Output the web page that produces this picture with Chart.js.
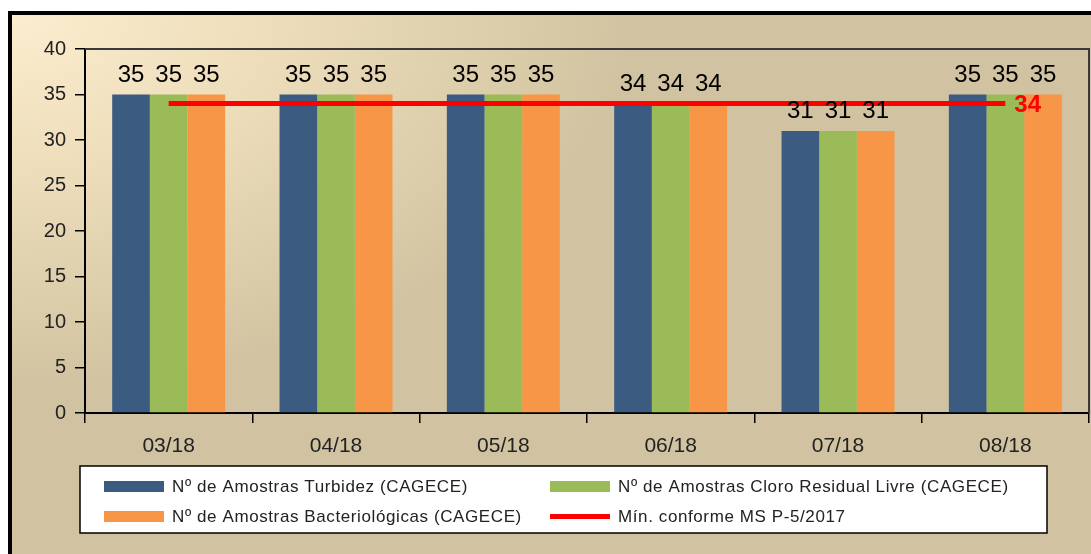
<!DOCTYPE html>
<html>
<head>
<meta charset="utf-8">
<script src="https://cdn.jsdelivr.net/npm/chart.js@4"></script>
<style>
  html, body { margin: 0; padding: 0; background: #fff; }
  #wrap { width: 1091px; height: 554px; }
</style>
</head>
<body>
<div id="wrap"><canvas id="myChart" width="1091" height="554"></canvas></div>
<script>
var meses = ["03/18", "04/18", "05/18", "06/18", "07/18", "08/18"];
var turbidez = [35, 35, 35, 34, 31, 35];
var cloro = [35, 35, 35, 34, 31, 35];
var bacterio = [35, 35, 35, 34, 31, 35];
var minimo = [34, 34, 34, 34, 34, 34];
var yTicks = [0, 5, 10, 15, 20, 25, 30, 35, 40];

var fonte = "'Liberation Sans', Arial, sans-serif";

// fundo, moldura e caixa da legenda
var fundo = {
  id: "fundo",
  beforeDraw: function (chart) {
    var ctx = chart.ctx;
    ctx.save();
    ctx.fillStyle = "#fff";
    ctx.fillRect(0, 0, chart.width, chart.height);
    ctx.fillStyle = "#000";
    ctx.fillRect(8, 11, chart.width, chart.height);
    ctx.save();
    ctx.beginPath();
    ctx.rect(12, 15, chart.width, chart.height);
    ctx.clip();
    ctx.scale(1, 0.6);
    var g = ctx.createRadialGradient(12, 25, 0, 12, 25, 620);
    g.addColorStop(0, "#fcedcf");
    g.addColorStop(0.45, "#ecdcb9");
    g.addColorStop(1, "#d1c3a1");
    ctx.fillStyle = g;
    ctx.fillRect(0, 0, chart.width, chart.height / 0.6);
    ctx.restore();
    ctx.restore();
  },
  afterDatasetsDraw: function (chart) {
    var ctx = chart.ctx;
    var a = chart.chartArea;
    ctx.save();
    // borda superior e direita da área do gráfico
    ctx.strokeStyle = "#3a3a3a";
    ctx.lineWidth = 2;
    ctx.beginPath();
    ctx.moveTo(a.left, a.top);
    ctx.lineTo(a.right, a.top);
    ctx.lineTo(a.right, a.bottom);
    ctx.stroke();

    // rótulos de valor acima das barras
    ctx.font = "24px " + fonte;
    ctx.fillStyle = "#000";
    ctx.textAlign = "center";
    ctx.textBaseline = "alphabetic";
    chart.data.datasets.forEach(function (ds, i) {
      if (ds.type === "line") return;
      chart.getDatasetMeta(i).data.forEach(function (bar, j) {
        ctx.fillText(ds.data[j], bar.x, bar.y - 13);
      });
    });

    // rótulo da linha no último ponto
    var li = chart.data.datasets.findIndex(function (d) { return d.type === "line"; });
    var pts = chart.getDatasetMeta(li).data;
    var last = pts[pts.length - 1];
    ctx.font = "bold 24px " + fonte;
    ctx.fillStyle = "#ff0000";
    ctx.textAlign = "left";
    ctx.textBaseline = "middle";
    ctx.fillText(minimo[minimo.length - 1], last.x + 9, last.y + 2);

    // legenda
    ctx.fillStyle = "#fff";
    ctx.fillRect(80, 466, 967, 67);
    ctx.strokeStyle = "#000";
    ctx.lineWidth = 1.5;
    ctx.strokeRect(80, 466, 967, 67);
    var pos = [[104, 486], [104, 516], [550, 486], [550, 516]];
    var ordem = [1, 3, 2, 0];
    ctx.font = "17px " + fonte;
    ctx.letterSpacing = "0.6px";
    ctx.textBaseline = "middle";
    ordem.forEach(function (di, k) {
      var ds = chart.data.datasets[di];
      var p = pos[k];
      ctx.fillStyle = ds.type === "line" ? ds.borderColor : ds.backgroundColor;
      if (ds.type === "line") ctx.fillRect(p[0], p[1] - 2, 60, 5);
      else ctx.fillRect(p[0], p[1] - 5, 60, 11);
      ctx.fillStyle = "#222";
      ctx.fillText(ds.label, p[0] + 68, p[1] + 1);
    });
    ctx.restore();
  }
};

new Chart("myChart", {
  type: "bar",
  data: {
    labels: meses,
    datasets: [
      {
        type: "line",
        label: "Mín. conforme MS P-5/2017",
        data: minimo,
        borderColor: "#ff0000",
        borderWidth: 5,
        pointRadius: 0,
        borderCapStyle: "butt",
        order: 0
      },
      {
        label: "Nº de Amostras Turbidez (CAGECE)",
        data: turbidez,
        backgroundColor: "#3b5b80",
        order: 1
      },
      {
        label: "Nº de Amostras Cloro Residual Livre (CAGECE)",
        data: cloro,
        backgroundColor: "#9bbb59",
        order: 1
      },
      {
        label: "Nº de Amostras Bacteriológicas (CAGECE)",
        data: bacterio,
        backgroundColor: "#f79646",
        order: 1
      }
    ]
  },
  options: {
    responsive: false,
    animation: false,
    layout: { padding: { left: 0, top: 49, right: 2, bottom: 101 } },
    datasets: { bar: { barPercentage: 1, categoryPercentage: 0.675 } },
    plugins: { legend: { display: false }, tooltip: { enabled: false } },
    scales: {
      x: {
        afterFit: function (s) { s.height = 40; },
        grid: { offset: true, drawOnChartArea: false, drawTicks: true, tickLength: 10, color: "#000", lineWidth: 1.5 },
        border: { display: true, color: "#000", width: 2 },
        ticks: { color: "#222", font: { family: fonte, size: 21 }, padding: 11 }
      },
      y: {
        min: 0,
        max: 40,
        afterFit: function (s) { s.width = 85; },
        afterBuildTicks: function (s) { s.ticks = yTicks.map(function (v) { return { value: v }; }); },
        grid: { drawOnChartArea: false, drawTicks: true, tickLength: 10, color: "#000", lineWidth: 1.5 },
        border: { display: true, color: "#000", width: 2 },
        ticks: { color: "#222", font: { family: fonte, size: 20 }, padding: 9 }
      }
    }
  },
  plugins: [fundo]
});
</script>
</body>
</html>
